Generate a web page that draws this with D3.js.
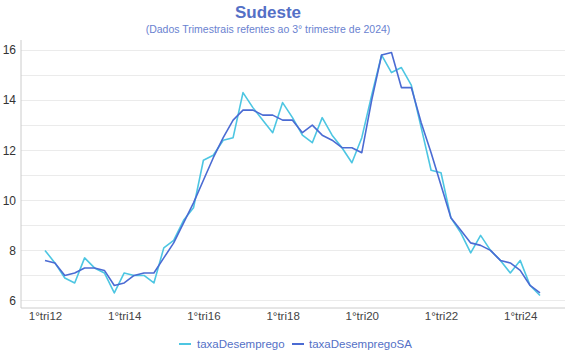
<!DOCTYPE html>
<html>
<head>
<meta charset="utf-8">
<script src="https://cdn.jsdelivr.net/npm/d3@7"></script>
<style>
  html, body { margin: 0; padding: 0; background: #fff; }
  svg { display: block; font-family: "Liberation Sans", Arial, sans-serif; }
</style>
</head>
<body>
<svg id="chart" width="570" height="360"></svg>
<script>
const categories = [
  "1°tri12","2°tri12","3°tri12","4°tri12",
  "1°tri13","2°tri13","3°tri13","4°tri13",
  "1°tri14","2°tri14","3°tri14","4°tri14",
  "1°tri15","2°tri15","3°tri15","4°tri15",
  "1°tri16","2°tri16","3°tri16","4°tri16",
  "1°tri17","2°tri17","3°tri17","4°tri17",
  "1°tri18","2°tri18","3°tri18","4°tri18",
  "1°tri19","2°tri19","3°tri19","4°tri19",
  "1°tri20","2°tri20","3°tri20","4°tri20",
  "1°tri21","2°tri21","3°tri21","4°tri21",
  "1°tri22","2°tri22","3°tri22","4°tri22",
  "1°tri23","2°tri23","3°tri23","4°tri23",
  "1°tri24","2°tri24","3°tri24"
];
const taxaDesemprego = [
  8.0, 7.5, 6.9, 6.7,
  7.7, 7.3, 7.1, 6.3,
  7.1, 7.0, 7.0, 6.7,
  8.1, 8.4, 9.2, 9.7,
  11.6, 11.8, 12.4, 12.5,
  14.3, 13.7, 13.2, 12.7,
  13.9, 13.3, 12.6, 12.3,
  13.3, 12.6, 12.1, 11.5,
  12.5, 14.2, 15.8, 15.1,
  15.3, 14.6, 12.9, 11.2,
  11.1, 9.3, 8.7, 7.9,
  8.6, 8.0, 7.6, 7.1,
  7.6, 6.6, 6.2
];
const taxaDesempregoSA = [
  7.6, 7.5, 7.0, 7.1,
  7.3, 7.3, 7.2, 6.6,
  6.7, 7.0, 7.1, 7.1,
  7.7, 8.3, 9.1, 9.9,
  10.8, 11.7, 12.5, 13.2,
  13.6, 13.6, 13.4, 13.4,
  13.2, 13.2, 12.7, 13.0,
  12.6, 12.4, 12.1, 12.1,
  11.9, 14.0, 15.8, 15.9,
  14.5, 14.5, 13.1, 11.9,
  10.6, 9.3, 8.8, 8.3,
  8.2, 8.0, 7.6, 7.5,
  7.2, 6.6, 6.3
];
const xTickLabels = ["1°tri12","1°tri14","1°tri16","1°tri18","1°tri20","1°tri22","1°tri24"];
const yTicks = [6, 8, 10, 12, 14, 16];
const yGrid = [6, 7, 8, 9, 10, 11, 12, 13, 14, 15, 16];
const seriesNames = ["taxaDesemprego", "taxaDesempregoSA"];
const seriesColors = ["#4dc6e2", "#4b6bd3"];

const svg = d3.select("#chart");
const plot = { left: 21, right: 565, top: 40, bottom: 308 };

const x = d3.scalePoint().domain(categories).range([45, 540]);
const y = d3.scaleLinear().domain([5.7, 16.4]).range([plot.bottom, plot.top]);

// title
svg.append("text").attr("x", 268).attr("y", 18).attr("text-anchor", "middle")
  .attr("font-size", 17).attr("font-weight", "bold").attr("fill", "#5470c6").text("Sudeste");
svg.append("text").attr("x", 268).attr("y", 33).attr("text-anchor", "middle")
  .attr("font-size", 10.5).attr("fill", "#6a82d0").text("(Dados Trimestrais refentes ao 3° trimestre de 2024)");

// grid
svg.append("g").selectAll("line").data(yGrid).join("line")
  .attr("x1", plot.left).attr("x2", plot.right)
  .attr("y1", d => y(d)).attr("y2", d => y(d))
  .attr("stroke", "#ebebeb").attr("stroke-width", 1).attr("shape-rendering", "crispEdges");

// y axis
const yAxis = d3.axisLeft(y).tickValues(yTicks).tickSize(0).tickPadding(5);
const gy = svg.append("g").attr("transform", `translate(${plot.left},0)`).call(yAxis);
gy.select(".domain").attr("stroke", "#cccccc").attr("d", `M0,${plot.top}V${plot.bottom}`);
gy.selectAll("text").attr("font-size", 12).attr("fill", "#333").attr("font-family", "Liberation Sans, Arial, sans-serif");

// x axis
const xAxis = d3.axisBottom(x).tickValues(xTickLabels).tickSize(0).tickPadding(4);
const gx = svg.append("g").attr("transform", `translate(0,${plot.bottom})`).call(xAxis);
gx.select(".domain").attr("stroke", "#cccccc").attr("d", `M${plot.left},0H${plot.right}`);
gx.selectAll("text").attr("font-size", 11.5).attr("fill", "#444").attr("font-family", "Liberation Sans, Arial, sans-serif");

// lines
const allSeries = [taxaDesemprego, taxaDesempregoSA];
const line = d3.line().x((d, i) => x(categories[i])).y(d => y(d));
allSeries.forEach((s, k) => {
  svg.append("path").datum(s).attr("d", line).attr("fill", "none")
    .attr("stroke", seriesColors[k]).attr("stroke-width", 1.6).attr("stroke-linejoin", "round");
});

// legend
const legendItems = [{x: 179, tx: 197}, {x: 292, tx: 309}];
seriesNames.forEach((n, k) => {
  const g = svg.append("g");
  g.append("line").attr("x1", legendItems[k].x).attr("x2", legendItems[k].x + 12)
    .attr("y1", 344).attr("y2", 344).attr("stroke", seriesColors[k]).attr("stroke-width", 2);
  g.append("text").attr("x", legendItems[k].tx).attr("y", 348)
    .attr("font-size", 11.5).attr("fill", "#5470c6").text(n);
});
</script>
</body>
</html>
